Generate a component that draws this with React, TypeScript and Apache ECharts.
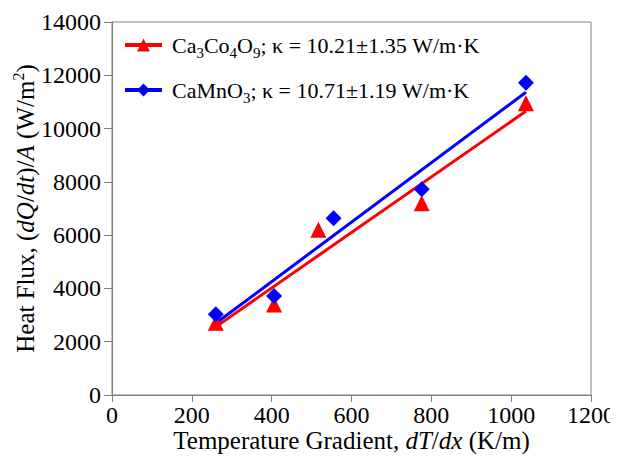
import React, { useEffect, useRef } from "react";
import * as echarts from "echarts";

const coX = [260, 406, 517, 776, 1037];
const coY = [2710, 3400, 6200, 7200, 10950];
const mnX = [260, 406, 555, 776, 1037];
const mnY = [3030, 3720, 6630, 7720, 11720];
const xTicks = { min: 0, max: 1200, interval: 200 };
const yTicks = { min: 0, max: 14000, interval: 2000 };
const names = ["Ca3Co4O9", "CaMnO3"];
const legendLabels: Record<string, string> = {
  Ca3Co4O9: "Ca{sub|3}Co{sub|4}O{sub|9}; κ = 10.21±1.35 W/m·K",
  CaMnO3: "CaMnO{sub|3}; κ = 10.71±1.19 W/m·K",
};

function fit(xs: number[], ys: number[]) {
  const n = xs.length;
  const mx = xs.reduce((a, b) => a + b, 0) / n;
  const my = ys.reduce((a, b) => a + b, 0) / n;
  let sxy = 0, sxx = 0;
  for (let i = 0; i < n; i++) {
    sxy += (xs[i] - mx) * (ys[i] - my);
    sxx += (xs[i] - mx) * (xs[i] - mx);
  }
  const k = sxy / sxx;
  const b = my - k * mx;
  const x0 = Math.min(...xs), x1 = Math.max(...xs);
  return [[x0, k * x0 + b], [x1, k * x1 + b]];
}

const FONT = "Liberation Serif";
const RED = "#ff0000";
const BLUE = "#0000ff";
const AXIS = "#808080";

export default function App() {
  const ref = useRef<HTMLDivElement>(null);
  useEffect(() => {
    if (!ref.current) return;
    const chart = echarts.init(ref.current, null, { renderer: "svg" });
    const zip = (xs: number[], ys: number[]) => xs.map((x, i) => [x, ys[i]]);
    const labelStyle = (margin: number) => ({
      fontFamily: FONT, fontSize: 24, color: "#000", margin,
      formatter: (v: number) => String(v),
    });
    chart.setOption({
      animation: false,
      textStyle: { fontFamily: FONT },
      grid: {
        left: 104, right: 27, top: 14, bottom: 61,
        outerBoundsMode: "none",
        show: true, borderColor: AXIS, borderWidth: 1,
      },
      legend: {
        data: names,
        left: 110, top: 17, orient: "vertical", itemGap: 15,
        itemWidth: 37, itemHeight: 16,
        lineStyle: { width: 4 },
        formatter: (n: string) => legendLabels[n],
        textStyle: {
          fontFamily: FONT, fontSize: 22, color: "#000", lineHeight: 30,
          padding: [0, 0, 0, 5],
          rich: { sub: { fontFamily: FONT, fontSize: 15, verticalAlign: "bottom", lineHeight: 16 } },
        },
      },
      xAxis: {
        type: "value", ...xTicks,
        name: "Temperature Gradient, {i|dT}/{i|dx} (K/m)",
        nameLocation: "middle", nameGap: 33, nameMoveOverlap: false,
        nameTextStyle: { fontFamily: FONT, fontSize: 25, color: "#000", rich: { i: { fontFamily: FONT, fontSize: 25, fontStyle: "italic" } } },
        axisLine: { show: true, lineStyle: { color: AXIS, width: 1 } },
        axisTick: { show: true, inside: false, length: 7, lineStyle: { color: AXIS } },
        axisLabel: labelStyle(8),
        splitLine: { show: false },
      },
      yAxis: {
        type: "value", ...yTicks,
        name: "Heat Flux, ({i|dQ}/{i|dt})/{i|A} (W/m{sup|2})",
        nameLocation: "middle", nameGap: 72, nameRotate: 90, nameMoveOverlap: false,
        nameTextStyle: {
          fontFamily: FONT, fontSize: 25, color: "#000", lineHeight: 30,
          rich: {
            i: { fontFamily: FONT, fontSize: 25, fontStyle: "italic", lineHeight: 30 },
            sup: { fontFamily: FONT, fontSize: 16, verticalAlign: "top", lineHeight: 16 },
          },
        },
        axisLine: { show: true, lineStyle: { color: AXIS, width: 1 } },
        axisTick: { show: true, inside: false, length: 8, lineStyle: { color: AXIS } },
        axisLabel: labelStyle(11),
        splitLine: { show: false },
      },
      series: [
        {
          name: names[0], type: "line", data: fit(coX, coY),
          showSymbol: false, symbol: "triangle", symbolSize: 16,
          lineStyle: { color: RED, width: 3 }, itemStyle: { color: RED }, z: 2,
        },
        {
          name: names[1], type: "line", data: fit(mnX, mnY),
          showSymbol: false, symbol: "diamond", symbolSize: 16,
          lineStyle: { color: BLUE, width: 3 }, itemStyle: { color: BLUE }, z: 3,
        },
        {
          name: "co-pts", type: "scatter", data: zip(coX, coY),
          symbol: "triangle", symbolSize: 16, itemStyle: { color: RED, opacity: 1 }, z: 4,
        },
        {
          name: "mn-pts", type: "scatter", data: zip(mnX, mnY),
          symbol: "diamond", symbolSize: 16, itemStyle: { color: BLUE, opacity: 1 }, z: 5,
        },
      ],
    });
    return () => chart.dispose();
  }, []);
  return <div ref={ref} style={{ width: 610, height: 448 }} />;
}
